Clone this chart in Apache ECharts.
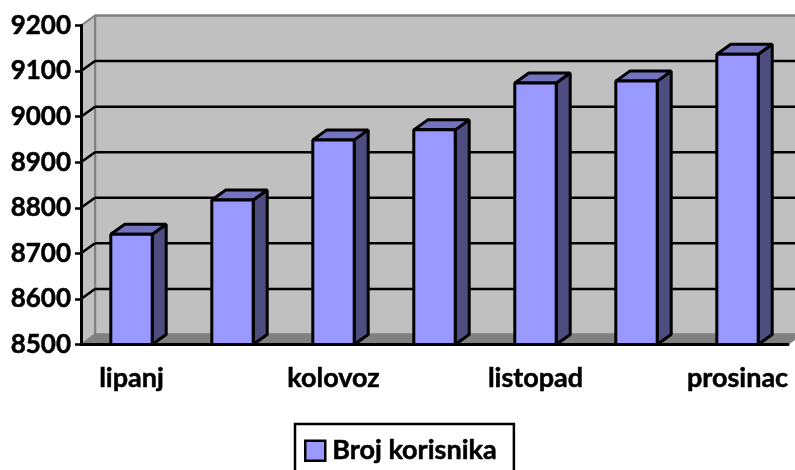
<!DOCTYPE html>
<html lang="en">

<head>
    <meta charset="UTF-8">
    <title>Broj korisnika</title>
    <script src="https://cdn.jsdelivr.net/npm/echarts@6/dist/echarts.min.js"></script>
    <style>
        html, body { margin: 0; padding: 0; background: #fff; }
        #main { width: 795px; height: 470px; }
    </style>
</head>

<body>
    <div id="main"></div>
    <script>
        var months = ['lipanj', 'srpanj', 'kolovoz', 'rujan', 'listopad', 'studeni', 'prosinac'];
        var users = [8742, 8817, 8949, 8971, 9074, 9078, 9137];
        var yTicks = [8500, 8600, 8700, 8800, 8900, 9000, 9100, 9200];

        // depth of the fake 3d box, in pixels
        var dx = 14;
        var dy = -10;
        var fontName = 'Lato';

        function poly(points, fill, stroke, width) {
            return {
                type: 'polygon',
                shape: { points: points },
                style: { fill: fill, stroke: stroke, lineWidth: width, lineJoin: 'bevel' }
            };
        }

        function line(x1, y1, x2, y2, color, width) {
            return {
                type: 'line',
                shape: { x1: x1, y1: y1, x2: x2, y2: y2 },
                style: { stroke: color, lineWidth: width }
            };
        }

        // walls and floor, one call per y tick
        function renderWall(params, api) {
            var r = params.coordSys;
            var left = r.x, right = r.x + r.width, top = r.y, bottom = r.y + r.height;
            var kids = [];
            if (params.dataIndex === 0) {
                // back wall runs past the window edge, same as the reference
                kids.push(poly([[left + dx, top + dy], [right + dx, top + dy], [right + dx, bottom + dy], [left + dx, bottom + dy]], '#c0c0c0', '#808080', 2.5));
                kids.push(poly([[left, top], [left + dx, top + dy], [left + dx, bottom + dy], [left, bottom]], '#c0c0c0', '#808080', 2));
                kids.push(poly([[left, bottom], [left + dx, bottom + dy], [right + dx, bottom + dy], [right, bottom]], '#808080', '#808080', 1));
            }
            var y = api.coord([0, api.value(0)])[1];
            if (api.value(0) > yTicks[0] && api.value(0) < yTicks[yTicks.length - 1]) {
                kids.push(line(left, y, left + dx, y + dy, '#000', 2.5));
                kids.push(line(left + dx, y + dy, right + dx, y + dy, '#000', 2.5));
            }
            return { type: 'group', children: kids };
        }

        function renderBar(params, api) {
            var p = api.coord([api.value(0), api.value(1)]);
            var base = api.coord([api.value(0), yTicks[0]]);
            var half = api.size([1, 0])[0] * 0.205;
            var l = p[0] - half, r = p[0] + half, t = p[1], b = base[1];
            return {
                type: 'group',
                children: [
                    poly([[r, t], [r + dx, t + dy], [r + dx, b + dy], [r, b]], '#4d4d80', '#000', 3),
                    poly([[l, t], [l + dx, t + dy], [r + dx, t + dy], [r, t]], '#7373bf', '#000', 3),
                    poly([[l, t], [r, t], [r, b], [l, b]], '#9999ff', '#000', 3)
                ]
            };
        }

        var myChart = echarts.init(document.getElementById('main'), null, { renderer: 'canvas' });

        var option = {
            animation: false,
            backgroundColor: '#fff',
            grid: { left: 81, right: 7, top: 25.5, bottom: 125.5 },
            xAxis: {
                type: 'category',
                data: months,
                boundaryGap: true,
                axisLine: { lineStyle: { color: '#000', width: 3 } },
                axisTick: { alignWithLabel: false, length: 7, lineStyle: { color: '#000', width: 2.5 } },
                axisLabel: {
                    interval: 1,
                    margin: 20,
                    hideOverlap: false,
                    color: '#000',
                    fontFamily: fontName,
                    fontWeight: 'bold',
                    fontSize: 27,
                    textBorderColor: '#000',
                    textBorderWidth: 0.5
                },
                z: 10
            },
            yAxis: {
                type: 'value',
                min: 8500,
                max: 9200,
                interval: 100,
                axisLine: { show: true, lineStyle: { color: '#000', width: 3 } },
                axisTick: { show: true, length: 6, lineStyle: { color: '#000', width: 2.5 } },
                splitLine: { show: false },
                axisLabel: {
                    margin: 10,
                    color: '#000',
                    fontFamily: fontName,
                    fontWeight: 'bold',
                    fontSize: 26,
                    textBorderColor: '#000',
                    textBorderWidth: 0.5,
                    formatter: function (v) { return String(v); }
                },
                z: 10
            },
            legend: {
                left: 295,
                top: 424,
                padding: [13, 17, 30, 9],
                borderColor: '#000',
                borderWidth: 2.5,
                itemWidth: 20,
                itemHeight: 20,
                itemGap: 0,
                textStyle: { color: '#000', fontFamily: fontName, fontWeight: 'bold', fontSize: 27, padding: [0, 0, 0, 2], textBorderColor: '#000', textBorderWidth: 0.5 },
                data: [{ name: 'Broj korisnika', icon: 'rect', itemStyle: { color: '#9999ff', borderColor: '#000', borderWidth: 2.5 } }]
            },
            series: [
                {
                    type: 'custom',
                    name: 'walls',
                    coordinateSystem: 'cartesian2d',
                    silent: true,
                    z: 1,
                    clip: false,
                    encode: { y: 0 },
                    data: yTicks.map(function (v) { return [v]; }),
                    renderItem: renderWall
                },
                {
                    type: 'custom',
                    name: 'Broj korisnika',
                    coordinateSystem: 'cartesian2d',
                    z: 5,
                    clip: false,
                    encode: { x: 0, y: 1 },
                    itemStyle: { color: '#9999ff' },
                    data: users.map(function (v, i) { return [i, v]; }),
                    renderItem: renderBar
                }
            ]
        };

        myChart.setOption(option);
    </script>
</body>

</html>
